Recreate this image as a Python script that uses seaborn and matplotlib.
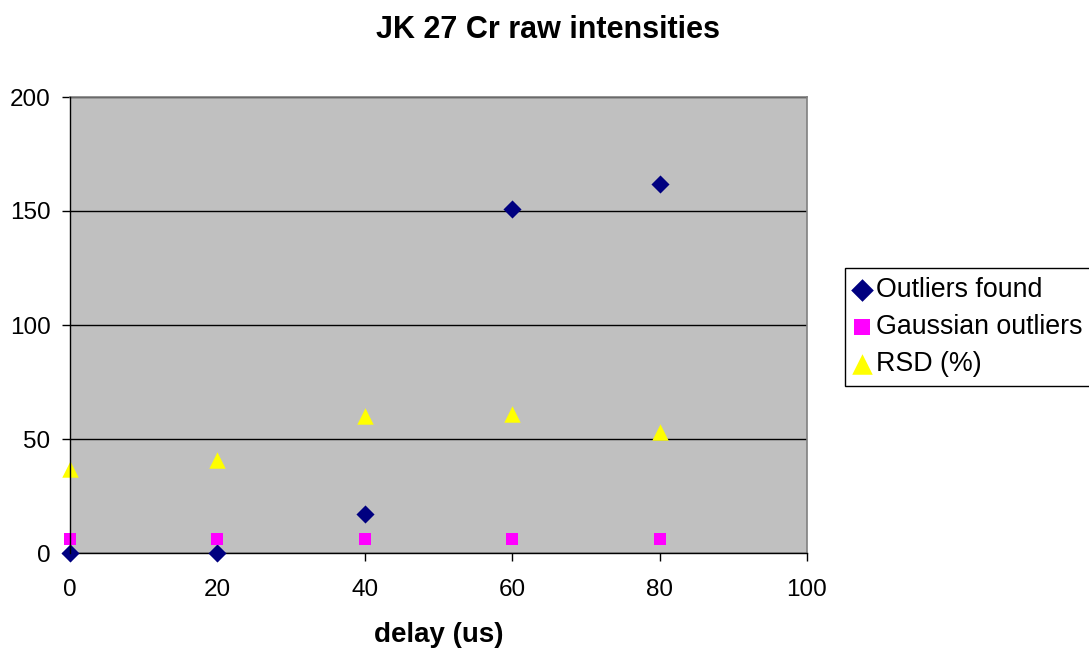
import matplotlib
matplotlib.use("Agg")
import matplotlib.pyplot as plt
import seaborn as sns
import pandas as pd

# Delay values (us) and measured series
delay = [0, 20, 40, 60, 80]
outliers_found = [0, 0, 17, 151, 162]
gaussian_outliers = [6, 6, 6, 6, 6]
rsd_percent = [37, 41, 60, 61, 53]

series_names = ["Outliers found", "Gaussian outliers", "RSD (%)"]

df = pd.DataFrame({
    "delay": delay * 3,
    "value": outliers_found + gaussian_outliers + rsd_percent,
    "series": sum([[n] * len(delay) for n in series_names], []),
})

sns.set_theme(style="white")
plt.rcParams["font.family"] = ["Liberation Sans", "DejaVu Sans"]
plt.rcParams["text.color"] = "black"
plt.rcParams["axes.labelcolor"] = "black"
plt.rcParams["xtick.color"] = "black"
plt.rcParams["ytick.color"] = "black"

fig = plt.figure(figsize=(10.89, 6.48), dpi=100)
ax = fig.add_axes([70 / 1089, 1 - 553 / 648, (807 - 70) / 1089, (553 - 97) / 648])
ax.set_facecolor("#C0C0C0")

styles = {
    "Outliers found": dict(marker="D", color="#000080", s=85),
    "Gaussian outliers": dict(marker="s", color="#FF00FF", s=75),
    "RSD (%)": dict(marker="^", color="#FFFF00", s=140),
}

for name in series_names:
    st = styles[name]
    sns.scatterplot(data=df[df["series"] == name], x="delay", y="value",
                    marker=st["marker"], color=st["color"], s=st["s"],
                    linewidth=0, ax=ax, label=name, zorder=3, clip_on=False)

ax.set_xlim(0, 100)
ax.set_ylim(0, 200)
ax.set_xticks([0, 20, 40, 60, 80, 100])
ax.set_yticks([0, 50, 100, 150, 200])
ax.yaxis.grid(True, color="black", linewidth=1)
ax.xaxis.grid(False)
ax.set_axisbelow(True)

for side in ["left", "bottom"]:
    ax.spines[side].set_color("black")
    ax.spines[side].set_linewidth(1)
for side in ["top", "right"]:
    ax.spines[side].set_color("#808080")
    ax.spines[side].set_linewidth(1.2)
ax.spines["left"].set_zorder(4)

ax.tick_params(axis="both", which="both", direction="out", length=6, width=1,
               color="black", labelsize=17.5, left=True, bottom=True)
ax.tick_params(axis="x", pad=13)
ax.tick_params(axis="y", pad=8)

ax.set_xlabel("delay (us)", fontsize=20, fontweight="bold", labelpad=15)
ax.set_ylabel("")
fig.suptitle("JK 27 Cr raw intensities", fontsize=22, fontweight="bold",
             x=548 / 1089, y=1 - 30 / 648, va="center")

ax.get_legend().remove()
handles, labels = ax.get_legend_handles_labels()
leg = fig.legend(handles, labels, loc="upper left",
                 bbox_to_anchor=(845 / 1089, 1 - 268 / 648),
                 fontsize=19.3, frameon=True, fancybox=False,
                 edgecolor="black", framealpha=1, facecolor="white",
                 handletextpad=0.25, labelspacing=0.42, borderpad=0.32,
                 handlelength=0.6, borderaxespad=0, markerscale=1.25)
leg.get_frame().set_linewidth(1)

fig.savefig("out.png", dpi=100)
